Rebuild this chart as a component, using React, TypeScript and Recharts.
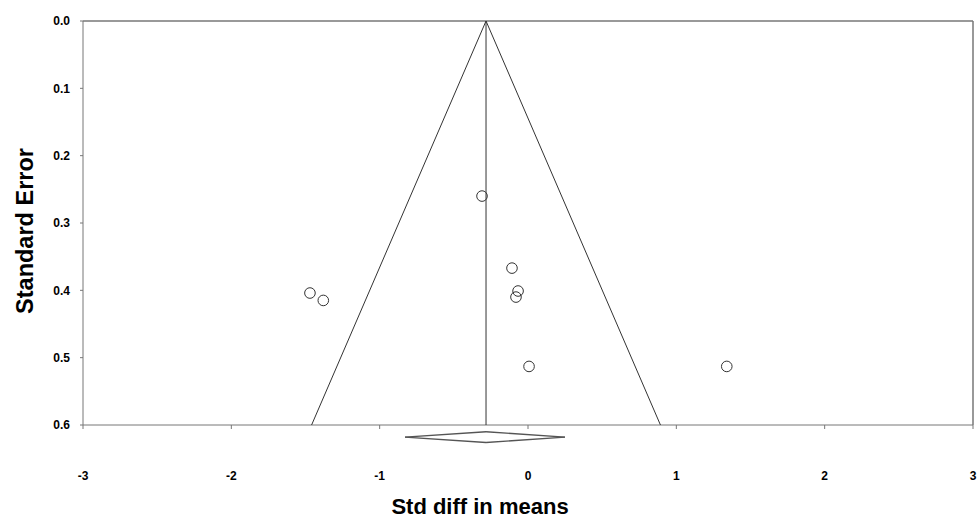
import React from "react";
import {
  ComposedChart,
  ReferenceLine,
  Scatter,
  XAxis,
  YAxis,
} from "recharts";

// study points
const studyEffects = [-0.31, -1.47, -1.38, -0.108, -0.067, -0.081, 0.007, 1.34];
const studySE = [0.26, 0.404, 0.415, 0.367, 0.401, 0.41, 0.513, 0.513];

const pooledEffect = -0.283;
const funnelEffects = [-1.459, pooledEffect, 0.893];
const funnelSE = [0.6, 0, 0.6];

// summary diamond under the axis
const diamondEffects = [-0.829, pooledEffect, 0.249, pooledEffect];
const diamondSE = [0.618, 0.61, 0.618, 0.626];

const xTicks = [-3, -2, -1, 0, 1, 2, 3];
const yTicks = [0, 0.1, 0.2, 0.3, 0.4, 0.5, 0.6];

const FONT = '"Liberation Sans", Arial, sans-serif';
const AXIS = "#777";
const INK = "#333";

const studies = studyEffects.map((x, i) => ({ x, y: studySE[i] }));
const funnel = funnelEffects.map((x, i) => ({ x, y: funnelSE[i] }));
const midLine = [
  { x: pooledEffect, y: 0 },
  { x: pooledEffect, y: 0.6 },
];
const diamond = diamondEffects.map((x, i) => ({ x, y: diamondSE[i] }));

const Circle = (props: any) => (
  <circle cx={props.cx} cy={props.cy} r={5.3} fill="none" stroke={INK} strokeWidth={1} />
);

const titleStyle = { fill: "#000", fontWeight: "bold", fontFamily: FONT } as const;

const XTitle = ({ viewBox }: any) => (
  <text
    x={viewBox.x + viewBox.width / 2 - 48}
    y={viewBox.y + viewBox.height - 6}
    textAnchor="middle"
    fontSize={22}
    {...titleStyle}
  >
    Std diff in means
  </text>
);

const YTitle = ({ viewBox }: any) => {
  const cx = viewBox.x + 33;
  const cy = viewBox.y + viewBox.height / 2 + 8;
  return (
    <text
      x={cx}
      y={cy}
      transform={`rotate(-90 ${cx} ${cy})`}
      textAnchor="middle"
      fontSize={23.5}
      {...titleStyle}
    >
      Standard Error
    </text>
  );
};

export default function App() {
  return (
    <div style={{ position: "absolute", left: 0, top: 0, background: "#fff" }}>
      <ComposedChart
        width={980}
        height={520}
        margin={{ top: 21, right: 7, bottom: 0, left: 0 }}
      >
        <XAxis
          type="number"
          dataKey="x"
          domain={[-3, 3]}
          ticks={xTicks}
          allowDataOverflow
          height={95}
          stroke={AXIS}
          tickSize={4}
          tickMargin={42}
          tick={{ fill: "#000", fontSize: 12, fontWeight: "bold", fontFamily: FONT }}
          label={<XTitle />}
        />
        <YAxis
          type="number"
          dataKey="y"
          reversed
          domain={[0, 0.6]}
          ticks={yTicks}
          allowDataOverflow
          width={83}
          stroke={AXIS}
          tickSize={3}
          tickMargin={10}
          tickFormatter={(v: number) => v.toFixed(1)}
          tick={{ fill: "#000", fontSize: 12, fontWeight: "bold", fontFamily: FONT }}
          label={<YTitle />}
        />
        {/* frame: top and right edges */}
        <ReferenceLine y={0} stroke={AXIS} strokeWidth={1.5} ifOverflow="visible" />
        <ReferenceLine x={3} stroke={AXIS} strokeWidth={1.5} ifOverflow="visible" />
        <Scatter
          data={funnel}
          line={{ stroke: INK, strokeWidth: 1 }}
          shape={() => null}
          isAnimationActive={false}
        />
        <Scatter
          data={midLine}
          line={{ stroke: INK, strokeWidth: 1 }}
          shape={() => null}
          isAnimationActive={false}
        />
        <Scatter data={studies} shape={Circle} isAnimationActive={false} />
        {diamond.map((p, i) => (
          <ReferenceLine
            key={i}
            segment={[p, diamond[(i + 1) % diamond.length]]}
            stroke="#555"
            strokeWidth={1.3}
            ifOverflow="visible"
          />
        ))}
      </ComposedChart>
    </div>
  );
}
